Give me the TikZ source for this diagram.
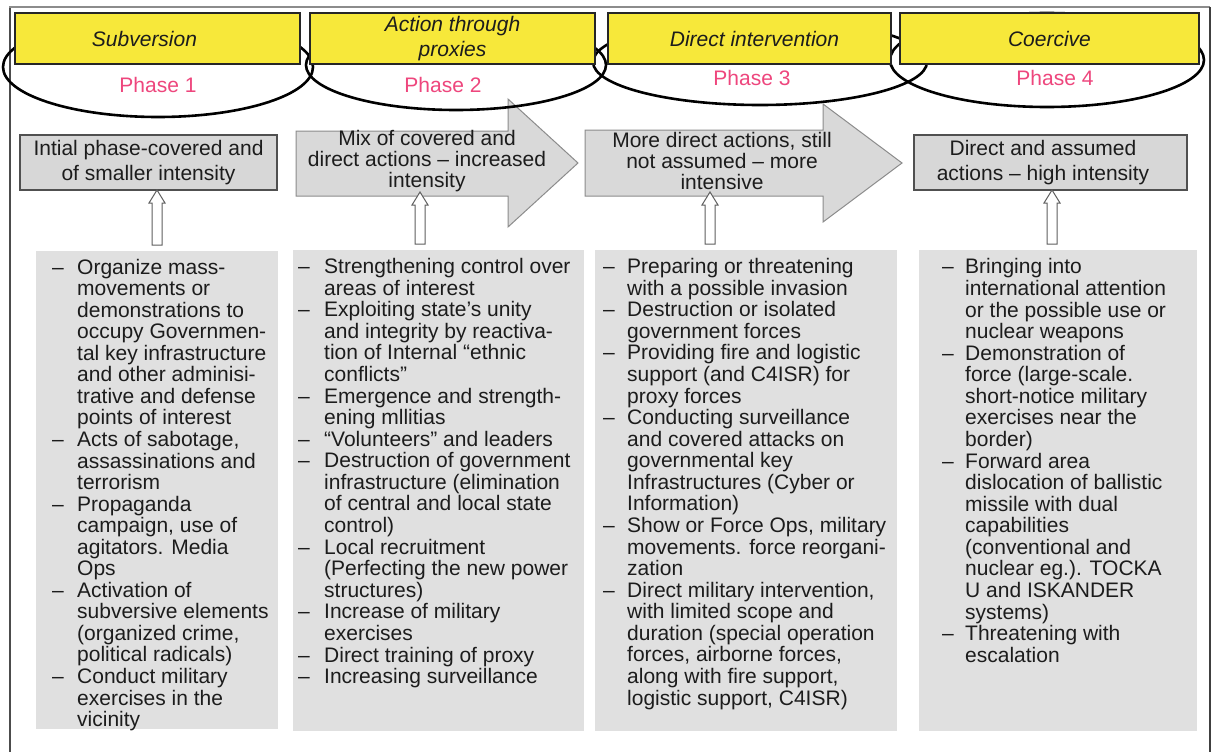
\documentclass[tikz,border=0pt]{standalone}
\usepackage{fontspec}
\setmainfont{Liberation Sans}
\usetikzlibrary{calc,shapes.geometric}
\definecolor{ylw}{RGB}{247,232,58}
\definecolor{pnk}{RGB}{238,70,125}
\definecolor{colfill}{RGB}{224,224,224}
\definecolor{boxfill}{RGB}{215,215,215}
\definecolor{boxline}{RGB}{80,80,80}
\definecolor{arrfill}{RGB}{217,217,217}
\definecolor{arrline}{RGB}{140,140,140}
\definecolor{txt}{RGB}{28,28,28}
\definecolor{hollowline}{RGB}{95,95,95}
\begin{document}
\begin{tikzpicture}[x=1pt,y=-1pt,
  ybox/.style={draw=black!85, line width=1.1pt, fill=ylw, minimum width=#1, minimum height=51, inner sep=0pt, align=center, font=\fontsize{21}{25}\selectfont\itshape, text=txt},
  ellip/.style={ellipse, draw=black, line width=2.6pt, inner sep=0pt},
  phase/.style={text=pnk, font=\fontsize{21}{25}\selectfont, inner sep=0pt},
  ibox/.style={draw=boxline, line width=1.5pt, fill=boxfill, align=center, font=\fontsize{21}{25}\selectfont, text=txt, inner sep=0pt},
  blockarrow/.style={draw=arrline, line width=1pt, fill=arrfill},
  atext/.style={align=center, font=\fontsize{21}{21}\selectfont, text=txt, inner sep=0pt},
  colbox/.style={fill=colfill, anchor=north west, inner sep=0pt},
  ctext/.style={anchor=north west, inner sep=0pt, font=\fontsize{21}{21.2}\selectfont, text=txt},
  frameline/.style={line width=1.6pt},
  hollowarr/.style={draw=hollowline, fill=white, line width=1pt},
  hollow/.style={to path={let \p1=(\tikztostart), \p2=(\tikztotarget) in
    (\x1-5pt,\y1+6pt) -- (\x1-5pt,\y2-13pt) -- (\x1-8pt,\y2-13pt) -- (\x1,\y2) -- (\x1+8pt,\y2-13pt) -- (\x1+5pt,\y2-13pt) -- (\x1+5pt,\y1+6pt) -- cycle}}
]
\useasboundingbox (0,0) rectangle (1213,752);
\fill[white] (0,0) rectangle (1213,752);

% frame
\draw[frameline, draw=black!70] (10,7) -- (10,752);
\draw[frameline, draw=black!45] (9,7) -- (1210,7);
\draw[frameline, draw=black!75] (1210,7) -- (1210,752);

% block arrows
\draw[blockarrow] (296,131) -- (508,131) -- (508,99) -- (578,163) -- (508,227) -- (508,196) -- (296,196) -- cycle;
\draw[blockarrow] (585,130) -- (823,130) -- (823,104) -- (902,163) -- (823,222) -- (823,196) -- (585,196) -- cycle;

% ellipses
\node[ellip, minimum width=310, minimum height=100] (e1) at (158,67) {};
\node[ellip, minimum width=300, minimum height=90] (e2) at (456,65) {};
\node[ellip, minimum width=334, minimum height=86] (e3) at (760,62) {};
\node[ellip, minimum width=314, minimum height=94] (e4) at (1047,60) {};

% yellow headers
\node[ybox=285] (y1) at (157.5,38.5) {\hspace*{-26pt}Subversion};
\node[ybox=285] (y2) at (452.5,38.5) {Action through\\proxies};
\node[ybox=283] (y3) at (749.5,38.5) {\hspace*{10pt}Direct intervention};
\node[ybox=299] (y4) at (1049.5,38.5) {Coercive};

% phase labels
\node[phase] (ph1) at (158,85) {Phase 1};
\node[phase] (ph2) at (443,85) {Phase 2};
\node[phase] (ph3) at (752,78) {Phase 3};
\node[phase] (ph4) at (1055,78) {Phase 4};

% intensity boxes
\node[ibox, minimum width=257, minimum height=55] (i1) at (148.5,162.5) {Intial phase-covered and\\of smaller intensity};
\node[atext] (m2) at (427,161) {Mix of covered and\\direct actions – increased\\intensity};
\node[atext] (m3) at (722,161) {More direct actions, still\\not assumed – more\\intensive};
\node[ibox, minimum width=273, minimum height=55] (i4) at (1050.5,162.5) {\hspace*{-15pt}Direct and assumed\\\hspace*{-15pt}actions – high intensity};

% columns
\node[colbox, minimum width=242, minimum height=478] (c1) at (36,251) {};
\node[colbox, minimum width=291, minimum height=481] (c2) at (293,250) {};
\node[colbox, minimum width=302, minimum height=481] (c3) at (595,250) {};
\node[colbox, minimum width=278, minimum height=481] (c4) at (919,250) {};

\node[ctext] (t1) at (52,259.2) {\begin{tabular}{@{}p{25pt}@{}l@{}}
–&Organize mass-\\
&movements or\\
&demonstrations to\\
&occupy Governmen-\\
&tal key infrastructure\\
&and other adminisi-\\
&trative and defense\\
&points of interest\\
–&Acts of sabotage,\\
&assassinations and\\
&terrorism\\
–&Propaganda\\
&campaign, use of\\
&agitators. Media\\
&Ops\\
–&Activation of\\
&subversive elements\\
&(organized crime,\\
&political radicals)\\
–&Conduct military\\
&exercises in the\\
&vicinity
\end{tabular}};

\node[ctext] (t2) at (298,258.2) {\begin{tabular}{@{}p{26pt}@{}l@{}}
–&Strengthening control over\\
&areas of interest\\
–&Exploiting state’s unity\\
&and integrity by reactiva-\\
&tion of Internal “ethnic\\
&conflicts”\\
–&Emergence and strength-\\
&ening mllitias\\
–&“Volunteers” and leaders\\
–&Destruction of government\\
&infrastructure (elimination\\
&of central and local state\\
&control)\\
–&Local recruitment\\
&(Perfecting the new power\\
&structures)\\
–&Increase of military\\
&exercises\\
–&Direct training of proxy\\
–&Increasing surveillance
\end{tabular}};

\node[ctext] (t3) at (603,258.2) {\begin{tabular}{@{}p{24pt}@{}l@{}}
–&Preparing or threatening\\
&with a possible invasion\\
–&Destruction or isolated\\
&government forces\\
–&Providing fire and logistic\\
&support (and C4ISR) for\\
&proxy forces\\
–&Conducting surveillance\\
&and covered attacks on\\
&governmental key\\
&Infrastructures (Cyber or\\
&Information)\\
–&Show or Force Ops, military\\
&movements. force reorgani-\\
&zation\\
–&Direct military intervention,\\
&with limited scope and\\
&duration (special operation\\
&forces, airborne forces,\\
&along with fire support,\\
&logistic support, C4ISR)
\end{tabular}};

\node[ctext] (t4) at (942,258.5) {\begin{tabular}{@{}p{23pt}@{}l@{}}
–&Bringing into\\
&international attention\\
&or the possible use or\\
&nuclear weapons\\
–&Demonstration of\\
&force (large-scale.\\
&short-notice military\\
&exercises near the\\
&border)\\
–&Forward area\\
&dislocation of ballistic\\
&missile with dual\\
&capabilities\\
&(conventional and\\
&nuclear eg.). TOCKA\\
&U and ISKANDER\\
&systems)\\
–&Threatening with\\
&escalation
\end{tabular}};

% hollow connector arrows
\coordinate (p1) at (157,190);
\coordinate (p2) at (420,192);
\coordinate (p3) at (710,192);
\coordinate (p4) at (1052,190);
\path[hollowarr] (c1.north -| p1) to[hollow] (p1);
\path[hollowarr] (c2.north -| p2) to[hollow] (p2);
\path[hollowarr] (c3.north -| p3) to[hollow] (p3);
\path[hollowarr] (c4.north -| p4) to[hollow] (p4);
\end{tikzpicture}
\end{document}
